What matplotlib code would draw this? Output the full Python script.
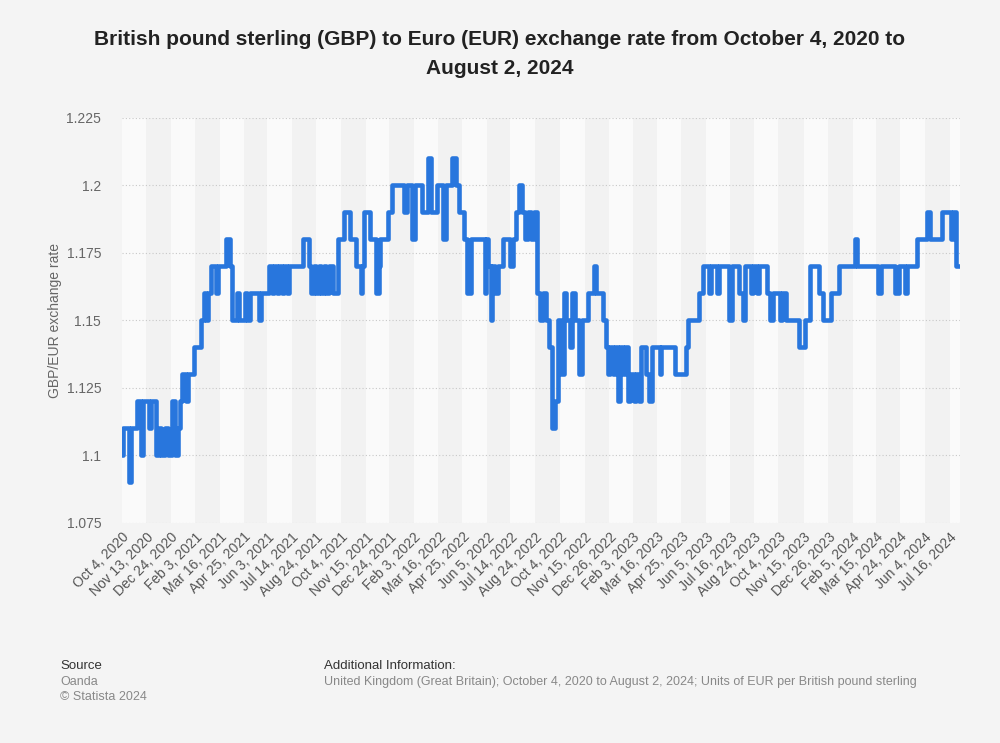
#! /usr/bin/env python3

"Recreate the GBP to EUR exchange rate chart."

import pandas as pd
import matplotlib
matplotlib.use("Agg")
import matplotlib.pyplot as plt

start = pd.Timestamp("2020-10-04")
end = pd.Timestamp("2024-08-02")

# days after Oct 4, 2020 where the rate changes, and the rate from that day on
change_days = [
    0, 2, 12, 15, 25, 32, 35, 45, 48, 57, 62, 65, 72, 77, 84, 89, 94, 97, 100,
    107, 110, 120, 132, 137, 140, 144, 149, 157, 160, 174, 180, 184, 192, 195,
    205, 209, 214, 229, 232, 246, 251, 254, 259, 262, 267, 271, 276, 279, 302,
    312, 316, 321, 324, 329, 332, 337, 341, 346, 352, 361, 371, 381, 391, 398,
    401, 404, 414, 423, 428, 431, 443, 451, 471, 476, 484, 489, 501, 511, 516,
    525, 536, 540, 551, 558, 563, 571, 576, 583, 605, 608, 611, 615, 618, 623,
    628, 636, 648, 653, 658, 663, 668, 673, 677, 682, 687, 692, 698, 703, 707,
    712, 717, 722, 727, 733, 737, 740, 747, 750, 755, 762, 767, 777, 787, 790,
    802, 807, 810, 814, 819, 822, 827, 830, 835, 839, 844, 847, 854, 857, 862,
    865, 874, 880, 885, 897, 900, 922, 941, 944, 962, 969, 974, 979, 982, 992,
    996, 1012, 1017, 1029, 1036, 1039, 1049, 1052, 1059, 1062, 1076, 1081,
    1086, 1098, 1101, 1108, 1129, 1139, 1148, 1163, 1169, 1183, 1196, 1223,
    1226, 1261, 1266, 1290, 1296, 1306, 1310, 1326, 1343, 1348, 1368, 1383,
    1387, 1392, 1398,
]
rates = [
    1.10, 1.11, 1.09, 1.11, 1.12, 1.10, 1.12, 1.11, 1.12, 1.10, 1.11, 1.10,
    1.11, 1.10, 1.12, 1.10, 1.11, 1.12, 1.13, 1.12, 1.13, 1.14, 1.15, 1.16,
    1.15, 1.16, 1.17, 1.16, 1.17, 1.18, 1.17, 1.15, 1.16, 1.15, 1.16, 1.15,
    1.16, 1.15, 1.16, 1.17, 1.16, 1.17, 1.16, 1.17, 1.16, 1.17, 1.16, 1.17,
    1.18, 1.17, 1.16, 1.17, 1.16, 1.17, 1.16, 1.17, 1.16, 1.17, 1.16, 1.18,
    1.19, 1.18, 1.17, 1.16, 1.17, 1.19, 1.18, 1.16, 1.17, 1.18, 1.19, 1.20,
    1.19, 1.20, 1.18, 1.20, 1.19, 1.21, 1.19, 1.20, 1.18, 1.20, 1.21, 1.20,
    1.19, 1.18, 1.16, 1.18, 1.16, 1.18, 1.17, 1.15, 1.17, 1.16, 1.17, 1.18,
    1.17, 1.18, 1.19, 1.20, 1.19, 1.18, 1.19, 1.18, 1.19, 1.16, 1.15, 1.16,
    1.15, 1.14, 1.11, 1.12, 1.15, 1.13, 1.16, 1.15, 1.14, 1.16, 1.15, 1.13,
    1.15, 1.16, 1.17, 1.16, 1.15, 1.14, 1.13, 1.14, 1.13, 1.14, 1.12, 1.14,
    1.13, 1.14, 1.12, 1.13, 1.12, 1.13, 1.12, 1.14, 1.13, 1.12, 1.14, 1.13,
    1.14, 1.13, 1.14, 1.15, 1.16, 1.17, 1.17, 1.16, 1.17, 1.16, 1.17, 1.15,
    1.17, 1.16, 1.15, 1.17, 1.16, 1.17, 1.16, 1.17, 1.16, 1.15, 1.16, 1.15,
    1.16, 1.15, 1.14, 1.15, 1.17, 1.16, 1.15, 1.16, 1.17, 1.18, 1.17, 1.16,
    1.17, 1.16, 1.17, 1.16, 1.17, 1.18, 1.19, 1.18, 1.19, 1.18, 1.19, 1.17,
    1.17,
]

tick_labels = [
    "Oct 4, 2020", "Nov 13, 2020", "Dec 24, 2020", "Feb 3, 2021",
    "Mar 16, 2021", "Apr 25, 2021", "Jun 3, 2021", "Jul 14, 2021",
    "Aug 24, 2021", "Oct 4, 2021", "Nov 15, 2021", "Dec 24, 2021",
    "Feb 3, 2022", "Mar 16, 2022", "Apr 25, 2022", "Jun 5, 2022",
    "Jul 14, 2022", "Aug 24, 2022", "Oct 4, 2022", "Nov 15, 2022",
    "Dec 26, 2022", "Feb 3, 2023", "Mar 16, 2023", "Apr 25, 2023",
    "Jun 5, 2023", "Jul 16, 2023", "Aug 24, 2023", "Oct 4, 2023",
    "Nov 15, 2023", "Dec 26, 2023", "Feb 5, 2024", "Mar 15, 2024",
    "Apr 24, 2024", "Jun 4, 2024", "Jul 16, 2024",
]
y_ticks = [1.075, 1.1, 1.125, 1.15, 1.175, 1.2, 1.225]
y_tick_labels = ["1.075", "1.1", "1.125", "1.15", "1.175", "1.2", "1.225"]

plt.rcParams["font.family"] = ["Liberation Sans", "DejaVu Sans"]

bg = "#f4f4f4"
fig = plt.figure(figsize=(10, 7.43), dpi=100, facecolor=bg)
ax = fig.add_axes([0.122, 0.2961, 0.838, 0.5451])
ax.set_facecolor(bg)

dates = start + pd.to_timedelta(change_days, unit="D")
tick_dates = pd.to_datetime(tick_labels, format="%b %d, %Y")

# alternating background bands between tick dates
band_edges = [start] + list(tick_dates[1:]) + [end]
for i in range(len(band_edges) - 1):
    color = "#fafafa" if i % 2 == 0 else "#f2f2f2"
    ax.axvspan(band_edges[i], band_edges[i + 1], color=color, lw=0, zorder=0)

for yt in y_ticks:
    ax.axhline(yt, color="#c8c8c8", lw=0.8, ls=(0, (1, 2)), zorder=1)

ax.plot(dates, rates, drawstyle="steps-post", color="#2876dd", lw=3.3,
        solid_joinstyle="round", solid_capstyle="round", zorder=3)

ax.set_xlim(start, end)
ax.set_ylim(1.075, 1.225)
ax.set_yticks(y_ticks)
ax.set_yticklabels(y_tick_labels, color="#666666", fontsize=10)
ax.set_xticks(tick_dates)
ax.set_xticklabels(tick_labels, rotation=45, ha="right",
                   rotation_mode="anchor", color="#555555", fontsize=10)
ax.tick_params(axis="x", length=0, pad=5)
ax.tick_params(axis="y", length=0, pad=15)
for spine in ax.spines.values():
    spine.set_visible(False)
ax.set_ylabel("GBP/EUR exchange rate", color="#666666", fontsize=10,
              labelpad=3)

fig.text(0.5, 0.947, "British pound sterling (GBP) to Euro (EUR) exchange rate from October 4, 2020 to",
         ha="center", va="center", fontsize=15, fontweight="bold", color="#222222")
fig.text(0.5, 0.908, "August 2, 2024",
         ha="center", va="center", fontsize=15, fontweight="bold", color="#222222")

fig.text(0.060, 0.104, "Source", fontsize=9.5, color="#333333", va="center")
fig.text(0.060, 0.082, "Oanda", fontsize=9, color="#888888", va="center")
fig.text(0.060, 0.062, "\u00a9 Statista 2024", fontsize=9, color="#888888", va="center")
fig.text(0.324, 0.104, "Additional Information:", fontsize=9.5, color="#333333", va="center")
fig.text(0.324, 0.082,
         "United Kingdom (Great Britain); October 4, 2020 to August 2, 2024; Units of EUR per British pound sterling",
         fontsize=9, color="#888888", va="center")

fig.savefig("out.png", dpi=100, facecolor=bg)
